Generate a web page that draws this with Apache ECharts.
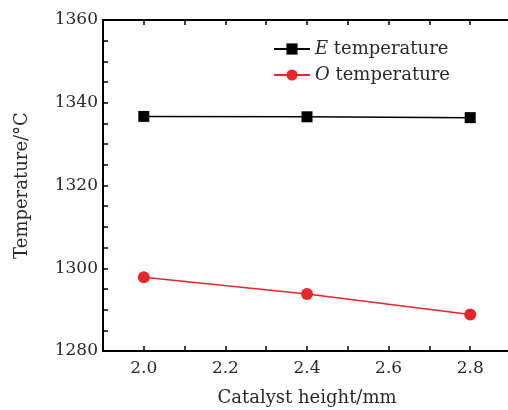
<!DOCTYPE html>
<html><head><meta charset="utf-8">
<script src="https://cdn.jsdelivr.net/npm/echarts@6/dist/echarts.min.js"></script>
<style>html,body{margin:0;padding:0;background:#fff}#c{width:508px;height:410px}</style>
</head><body><div id="c"></div>
<script>
const xValues = [2.0, 2.4, 2.8];
const eTemp = [1336.7, 1336.6, 1336.4];
const oTemp = [1297.8, 1293.8, 1288.8];
const xTickLabels = [2.0, 2.2, 2.4, 2.6, 2.8];
const xTicks = [1.9, 2.0, 2.1, 2.2, 2.3, 2.4, 2.5, 2.6, 2.7, 2.8, 2.9];
const yTickLabels = [1280, 1300, 1320, 1340, 1360];
const yTicks = [1280,1285,1290,1295,1300,1305,1310,1315,1320,1325,1330,1335,1340,1345,1350,1355,1360];

const font = 'DejaVu Serif';
const col = '#2a2a2a';
const chart = echarts.init(document.getElementById('c'));
const axisLine = {show:true, lineStyle:{color:'#000', width:2}};
chart.setOption({
  animation:false,
  grid:{left:103, top:20, right:-3, bottom:59, containLabel:false, outerBoundsMode:'none'},
  legend:{
    orient:'vertical', left:268, top:35, itemWidth:36, itemHeight:14, itemGap:8,
    textStyle:{fontFamily:font, fontSize:18, color:col,
      rich:{i:{fontFamily:font, fontStyle:'italic', fontSize:18, color:col}, t:{fontFamily:font, fontSize:18, color:col}}},
    formatter: n => n === 'E temperature' ? '{i|E} {t|temperature}' : '{i|O} {t|temperature}',
    data:['E temperature','O temperature']
  },
  xAxis:[{
    type:'value', min:1.9, max:2.9, position:'bottom',
    name:'Catalyst height/mm', nameLocation:'middle', nameGap:38,
    nameTextStyle:{fontFamily:font, fontSize:18, color:col},
    axisLine:axisLine,
    axisTick:{show:true, inside:true, length:5, lineStyle:{color:'#000', width:1.5}, customValues:xTicks},
    axisLabel:{fontFamily:font, fontSize:17, color:col, margin:9, customValues:xTickLabels, formatter:v=>v.toFixed(1)},
    splitLine:{show:false}
  },{
    type:'value', min:1.9, max:2.9, position:'top',
    axisLine:axisLine,
    axisTick:{show:true, inside:true, length:5, lineStyle:{color:'#000', width:1.5}, customValues:xTicks},
    axisLabel:{show:false}, splitLine:{show:false}
  }],
  yAxis:{
    type:'value', min:1280, max:1360,
    name:'Temperature/°C', nameLocation:'middle', nameGap:72, nameRotate:90,
    nameTextStyle:{fontFamily:font, fontSize:18, color:col},
    axisLine:axisLine,
    axisTick:{show:true, inside:true, length:5, lineStyle:{color:'#000', width:1.5}, customValues:yTicks},
    axisLabel:{fontFamily:font, fontSize:17, color:col, margin:5, customValues:yTickLabels, formatter:v=>String(v)},
    splitLine:{show:false}
  },
  series:[{
    name:'E temperature', type:'line', data:xValues.map((x,i)=>[x,eTemp[i]]),
    symbol:'rect', symbolSize:11, itemStyle:{color:'#000'}, lineStyle:{color:'#000', width:1.5}
  },{
    name:'O temperature', type:'line', data:xValues.map((x,i)=>[x,oTemp[i]]),
    symbol:'circle', symbolSize:12, itemStyle:{color:'#e8262b'}, lineStyle:{color:'#e8262b', width:1.5}
  }]
});
</script></body></html>
